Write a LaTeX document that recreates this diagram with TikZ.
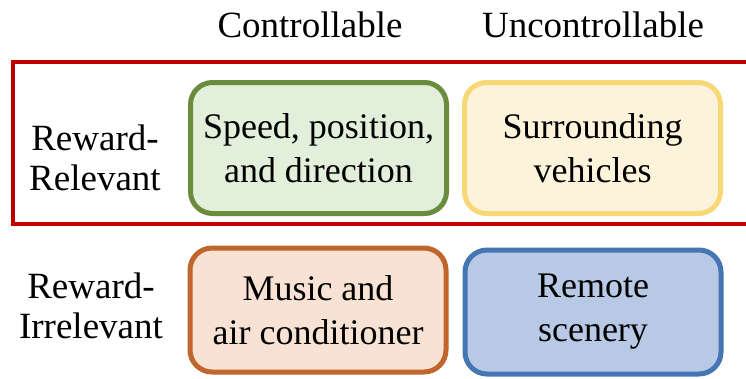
\documentclass[tikz,border=0pt]{standalone}
\usepackage{fontspec}
\setmainfont{Liberation Serif}
\definecolor{redframe}{HTML}{C00000}
\definecolor{greenline}{HTML}{6A8C3C}
\definecolor{greenfill}{HTML}{E2EFDA}
\definecolor{yellowline}{HTML}{F7D876}
\definecolor{yellowfill}{HTML}{FDF2DA}
\definecolor{orangeline}{HTML}{C0652B}
\definecolor{orangefill}{HTML}{F8E2D3}
\definecolor{blueline}{HTML}{4675B4}
\definecolor{bluefill}{HTML}{B7C9E5}
\tikzset{
  x=1pt, y=-1pt,
  catbox/.style={draw, line width=5pt, rounded corners=22pt, align=center,
    minimum width=256pt, inner sep=0pt,
    font=\fontsize{36}{44}\selectfont},
  header/.style={anchor=base, inner sep=0pt, font=\fontsize{37}{44}\selectfont},
  rowlabel/.style={anchor=base, inner sep=0pt, align=center,
    font=\fontsize{37}{40}\selectfont},
}
\begin{document}
\begin{tikzpicture}
\clip (0,0) rectangle (746,378);
\fill[white] (0,0) rectangle (746,378);

% column headings
\node[header] (hc) at (310,37) {Controllable};
\node[header] (hu) at (593,37) {Uncontrollable};

% row labels (base anchor sits on the last line)
\node[rowlabel] (lr) at (95,190) {Reward-\\Relevant};
\node[rowlabel] (li) at (91,338) {Reward-\\Irrelevant};

% the four categories
\node[catbox, draw=greenline, fill=greenfill, minimum height=131pt] (sp) at (318.5,148)
  {Speed, position,\\and direction};
\node[catbox, draw=yellowline, fill=yellowfill, minimum height=131pt] (sv) at (592.5,148)
  {Surrounding\\vehicles};
\node[catbox, draw=orangeline, fill=orangefill, minimum height=124pt] (ma) at (318,310)
  {Music and\\air conditioner};
\node[catbox, draw=blueline, fill=bluefill, minimum height=124pt] (rs) at (593,312)
  {Remote\\scenery};

% frame around the reward-relevant row
\draw[redframe, line width=4pt] (760,62) -- (13,62) -- (13,224) -- (760,224);
\end{tikzpicture}
\end{document}
